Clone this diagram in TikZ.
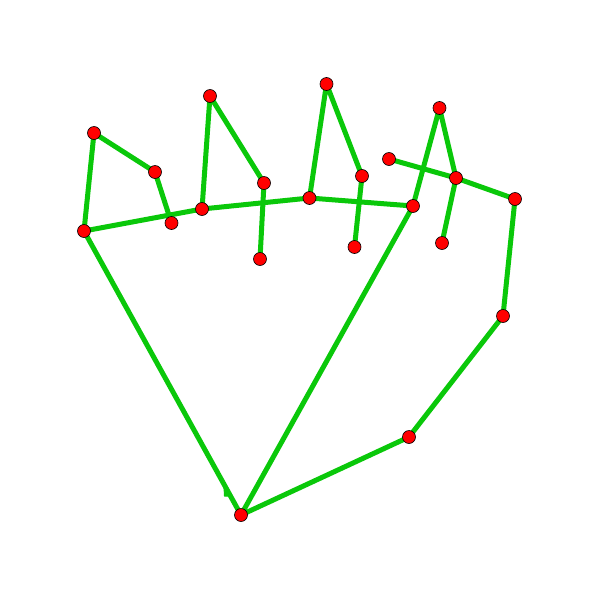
\documentclass[tikz,border=0pt]{standalone}
\begin{document}
\begin{tikzpicture}[x=1pt,y=-1pt,
  bone/.style={draw=bonegreen,line width=5pt,line join=round},
  joint/.style={circle,fill=red,draw=black,line width=0.6pt,inner sep=0pt,minimum size=13pt}]
\definecolor{bonegreen}{RGB}{10,200,10}
\useasboundingbox (0,0) rectangle (600,600);
\fill[white] (0,0) rectangle (600,600);
\coordinate (w) at (241,515);
\coordinate (t1) at (409,437);
\coordinate (t2) at (503,316);
\coordinate (t3) at (515,199);
\coordinate (t4) at (456,178);
\coordinate (t5) at (389,159);
\coordinate (a1) at (413,206);
\coordinate (a2) at (439.5,108);
\coordinate (a3) at (442,243);
\coordinate (b1) at (309.5,198);
\coordinate (b2) at (326.5,84);
\coordinate (b3) at (362,176);
\coordinate (b4) at (354.5,247);
\coordinate (c1) at (202,209);
\coordinate (c2) at (210,96);
\coordinate (c3) at (264,183);
\coordinate (c4) at (260,259);
\coordinate (d1) at (84,231);
\coordinate (d2) at (94,133);
\coordinate (d3) at (155,172);
\coordinate (d4) at (171.5,223);
\draw[bone] (w) -- (t1) -- (t2) -- (t3) -- (t4) -- (t5);
\draw[bone] (w) -- (a1) -- (a2) -- (t4) -- (a3);
\draw[bone] (w) -- (d1) -- (c1) -- (b1) -- (a1);
\draw[bone] (d1) -- (d2) -- (d3) -- (d4);
\draw[bone] (c1) -- (c2) -- (c3) -- (c4);
\draw[bone] (b1) -- (b2) -- (b3) -- (b4);
\filldraw[bonegreen,line width=1pt,line join=round] (224,487) -- (224.5,496) -- (231,496) -- (227,489) -- cycle;
\foreach \n in {w,t1,t2,t3,t4,t5,a1,a2,a3,b1,b2,b3,b4,c1,c2,c3,c4,d1,d2,d3,d4}
  \node[joint] (n\n) at (\n) {};
\end{tikzpicture}
\end{document}
